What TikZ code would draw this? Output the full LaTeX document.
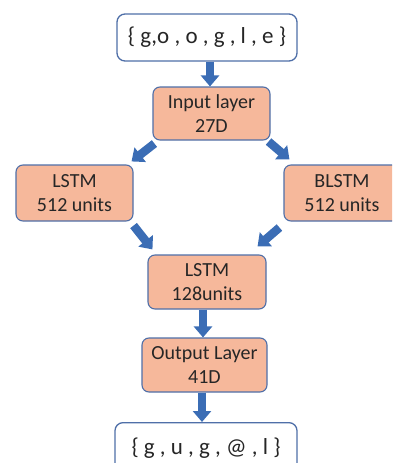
\documentclass[tikz,border=0pt]{standalone}
\usepackage{fontspec}
\setmainfont{Carlito}
\usetikzlibrary{arrows.meta}
\definecolor{boxfill}{HTML}{F6B89B}
\definecolor{boxline}{HTML}{4F6FA8}
\definecolor{arrowblue}{HTML}{3B6DB5}
\begin{document}
\begin{tikzpicture}[x=1pt,y=-1pt,
  layer/.style={draw=boxline, line width=1.1pt, fill=boxfill, rounded corners=7pt,
    inner sep=0pt, align=center, font=\fontsize{20}{24}\selectfont, text=black!85},
  seqbox/.style={draw=boxline, line width=1.3pt, fill=white, rounded corners=8pt,
    inner sep=0pt, align=center, font=\fontsize{23}{24}\selectfont, text=black!85},
  flow/.style={draw=arrowblue, line width=8.5pt,
    -{Triangle[width=18pt,length=11pt,fill=arrowblue]}}
]
\useasboundingbox (0,0) rectangle (392,463);
\clip (0,0) rectangle (392,463);

% input sequence
\node[seqbox, minimum width=180pt, minimum height=47pt] (src) at (207,37.5) {\{ g,o , o , g , l , e \}};

% network layers
\node[layer, minimum width=117pt, minimum height=53pt] (inp) at (211.5,113.5) {Input layer\\27D};
\node[layer, minimum width=117pt, minimum height=56pt] (lstmA) at (74.5,193) {LSTM\\512 units};
\node[layer, minimum width=116pt, minimum height=56pt] (blstm) at (342,193) {BLSTM\\512 units};
\node[layer, minimum width=118pt, minimum height=54pt] (lstmB) at (207,282) {LSTM\\128units};
\node[layer, minimum width=125pt, minimum height=54pt] (outp) at (204.5,365) {Output Layer\\41D};

% output sequence
\node[seqbox, minimum width=182pt, minimum height=52pt, anchor=north] (dst) at (206,422) {\raisebox{-1pt}{\{ g , u , g , @ , l \}}};

% end points of the diagonal connectors
\coordinate (a1) at ([shift={(2,3)}]inp.south west);
\coordinate (a2) at ([shift={(-2,-3)}]lstmA.north east);
\coordinate (b1) at ([shift={(-2,1)}]inp.south east);
\coordinate (b2) at ([shift={(6,-5)}]blstm.north west);
\coordinate (c1) at ([shift={(0,4)}]lstmA.south east);
\coordinate (c2) at ([shift={(5,-5)}]lstmB.north west);
\coordinate (d1) at ([shift={(-4,6)}]blstm.south west);
\coordinate (d2) at ([shift={(-9,-8)}]lstmB.north east);

% connectors
\draw[flow] (src.south -| 210,0) -- (inp.north -| 210,0);
\draw[flow] (a1) -- (a2);
\draw[flow] (b1) -- (b2);
\draw[flow] (c1) -- (c2);
\draw[flow] (d1) -- (d2);
\draw[flow] (lstmB.south -| 203,0) -- (outp.north -| 203,0);
\draw[flow] (outp.south -| 202,0) -- (dst.north -| 202,0);
\end{tikzpicture}
\end{document}
